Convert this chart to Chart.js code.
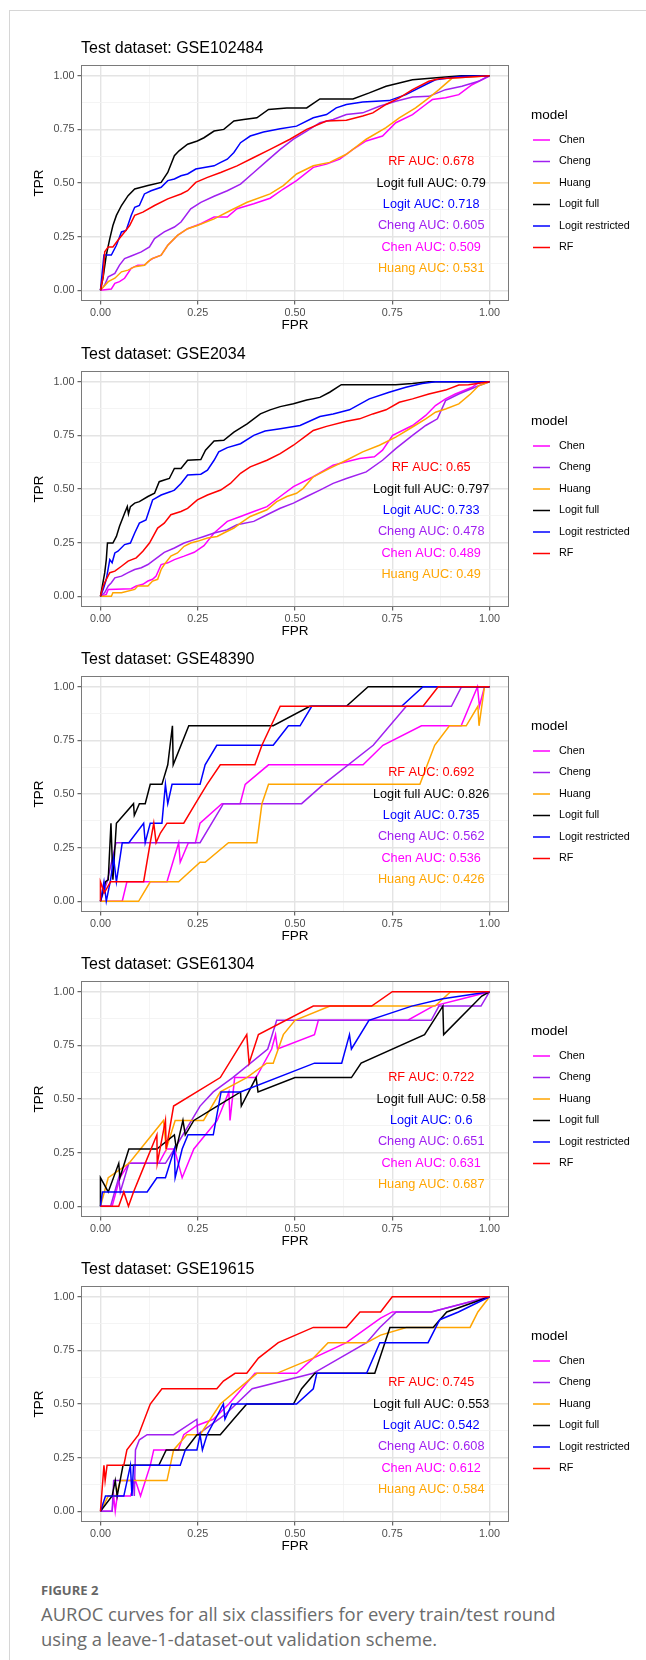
<!DOCTYPE html>
<html>
<head>
<meta charset="utf-8">
<title>AUROC curves</title>
<script src="https://cdn.jsdelivr.net/npm/chart.js@4.4.1/dist/chart.umd.min.js"></script>
<style>
  html, body { margin: 0; padding: 0; background: #fff; }
  body { width: 646px; height: 1660px; position: relative; overflow: hidden; }
  .frame { position: absolute; left: 9px; top: 10px; width: 720px; height: 1720px; border: 1px solid #d6d6d6; }
  canvas.panel { position: absolute; left: 0; }
  .caption { position: absolute; left: 41px; top: 1582px; font-family: "Open Sans", sans-serif; color: #6b6b6b; }
  .caption .fig { font-size: 13px; font-weight: bold; line-height: 16px; color: #666; }
  .caption .text { font-size: 18.4px; line-height: 25px; margin-top: 3px; }
</style>
</head>
<body>
<div class="frame"></div>
<div id="charts"></div>
<div class="caption">
  <div class="fig">FIGURE 2</div>
  <div class="text">AUROC curves for all six classifiers for every train/test round<br>using a leave-1-dataset-out validation scheme.</div>
</div>
<script>
// Models, colours and tick values
const models = ['Chen', 'Cheng', 'Huang', 'Logit full', 'Logit restricted', 'RF'];
const modelColors = ['#ff00ff', '#a020f0', '#ffa500', '#000000', '#0000ff', '#ff0000'];
const aucNames = ['Chen', 'Cheng', 'Huang', 'Logit full', 'Logit', 'RF'];
const tickValues = [0, 0.25, 0.5, 0.75, 1];
const gridValues = [0, 0.125, 0.25, 0.375, 0.5, 0.625, 0.75, 0.875, 1];

// AUC per model (same order as models)
const auc102484 = [0.509, 0.605, 0.531, 0.79, 0.718, 0.678];
const auc2034 = [0.489, 0.478, 0.49, 0.797, 0.733, 0.65];
const auc48390 = [0.536, 0.562, 0.426, 0.826, 0.735, 0.692];
const auc61304 = [0.631, 0.651, 0.687, 0.58, 0.6, 0.722];
const auc19615 = [0.612, 0.608, 0.584, 0.553, 0.542, 0.745];

// ROC curves, [FPR, TPR]
// GSE102484
const chen102484 = [[0,0],[0.028,0.006],[0.037,0.032],[0.049,0.040],[0.062,0.056],[0.079,0.102],[0.096,0.117],[0.113,0.117],[0.122,0.133],[0.134,0.148],[0.156,0.164],[0.173,0.210],[0.198,0.256],[0.224,0.287],[0.258,0.310],[0.292,0.341],[0.326,0.341],[0.351,0.380],[0.394,0.403],[0.436,0.429],[0.470,0.472],[0.504,0.511],[0.547,0.573],[0.581,0.588],[0.615,0.611],[0.649,0.657],[0.683,0.696],[0.725,0.719],[0.759,0.781],[0.802,0.819],[0.836,0.866],[0.853,0.889],[0.887,0.897],[0.921,0.912],[0.955,0.958],[1,1]];
const cheng102484 = [[0,0],[0.011,0.025],[0.020,0.063],[0.037,0.079],[0.049,0.117],[0.062,0.148],[0.079,0.160],[0.105,0.179],[0.126,0.202],[0.139,0.241],[0.164,0.272],[0.190,0.295],[0.207,0.318],[0.232,0.380],[0.258,0.410],[0.292,0.438],[0.326,0.464],[0.360,0.495],[0.394,0.549],[0.428,0.603],[0.462,0.657],[0.496,0.704],[0.530,0.742],[0.564,0.781],[0.598,0.796],[0.632,0.819],[0.674,0.827],[0.717,0.858],[0.759,0.881],[0.802,0.901],[0.844,0.904],[0.887,0.935],[0.929,0.951],[0.972,0.974],[1,1]];
const huang102484 = [[0,0],[0.020,0.040],[0.037,0.056],[0.054,0.086],[0.071,0.094],[0.088,0.110],[0.113,0.117],[0.130,0.145],[0.156,0.164],[0.173,0.210],[0.198,0.256],[0.224,0.287],[0.249,0.302],[0.292,0.333],[0.334,0.372],[0.377,0.410],[0.436,0.449],[0.470,0.488],[0.504,0.542],[0.547,0.580],[0.589,0.596],[0.632,0.634],[0.683,0.704],[0.734,0.758],[0.768,0.804],[0.810,0.850],[0.844,0.897],[0.870,0.935],[0.904,0.989],[1,1]];
const logitFull102484 = [[0,0],[0.007,0.063],[0.015,0.164],[0.024,0.241],[0.032,0.302],[0.041,0.349],[0.054,0.395],[0.071,0.441],[0.088,0.472],[0.105,0.480],[0.122,0.488],[0.156,0.503],[0.173,0.549],[0.190,0.627],[0.202,0.650],[0.224,0.681],[0.249,0.696],[0.266,0.711],[0.292,0.742],[0.317,0.750],[0.343,0.789],[0.368,0.796],[0.402,0.804],[0.432,0.843],[0.479,0.850],[0.530,0.850],[0.564,0.892],[0.649,0.892],[0.691,0.920],[0.734,0.951],[0.768,0.966],[0.802,0.981],[0.887,0.994],[0.929,1],[1,1]];
const logitRes102484 = [[0,0],[0.009,0.164],[0.028,0.164],[0.041,0.210],[0.054,0.272],[0.066,0.279],[0.079,0.349],[0.088,0.387],[0.100,0.395],[0.113,0.449],[0.130,0.464],[0.156,0.480],[0.173,0.511],[0.190,0.519],[0.207,0.534],[0.224,0.542],[0.245,0.565],[0.292,0.580],[0.309,0.596],[0.326,0.611],[0.343,0.642],[0.360,0.688],[0.385,0.719],[0.419,0.738],[0.462,0.753],[0.504,0.765],[0.547,0.804],[0.581,0.819],[0.606,0.850],[0.632,0.866],[0.674,0.877],[0.742,0.884],[0.785,0.912],[0.827,0.951],[0.861,0.981],[0.929,0.997],[1,1]];
const rf102484 = [[0,0],[0.007,0.063],[0.011,0.179],[0.020,0.202],[0.032,0.202],[0.045,0.233],[0.062,0.272],[0.075,0.302],[0.088,0.349],[0.109,0.364],[0.139,0.395],[0.173,0.426],[0.207,0.449],[0.224,0.464],[0.245,0.503],[0.275,0.526],[0.309,0.549],[0.351,0.580],[0.394,0.619],[0.436,0.657],[0.487,0.704],[0.530,0.750],[0.581,0.789],[0.632,0.793],[0.674,0.812],[0.700,0.827],[0.734,0.866],[0.768,0.897],[0.802,0.935],[0.844,0.974],[0.870,0.986],[0.929,0.992],[1,1]];

// GSE2034
const chen2034 = [[0,0],[0.015,0.009],[0.020,0.032],[0.079,0.035],[0.092,0.048],[0.109,0.056],[0.122,0.071],[0.134,0.079],[0.143,0.094],[0.156,0.148],[0.173,0.156],[0.190,0.171],[0.215,0.187],[0.241,0.205],[0.266,0.236],[0.292,0.295],[0.326,0.349],[0.360,0.372],[0.394,0.395],[0.428,0.418],[0.462,0.465],[0.496,0.511],[0.547,0.557],[0.598,0.611],[0.632,0.627],[0.666,0.642],[0.704,0.650],[0.725,0.681],[0.751,0.750],[0.785,0.781],[0.802,0.796],[0.836,0.843],[0.861,0.889],[0.887,0.920],[0.912,0.943],[0.955,0.974],[0.972,0.997],[1,1]];
const cheng2034 = [[0,0],[0.011,0.017],[0.020,0.048],[0.028,0.063],[0.037,0.086],[0.054,0.094],[0.071,0.110],[0.088,0.125],[0.105,0.133],[0.122,0.148],[0.139,0.171],[0.164,0.205],[0.190,0.225],[0.215,0.248],[0.241,0.264],[0.266,0.279],[0.292,0.295],[0.326,0.310],[0.351,0.333],[0.394,0.349],[0.428,0.380],[0.462,0.410],[0.496,0.434],[0.530,0.465],[0.564,0.495],[0.598,0.526],[0.632,0.549],[0.683,0.580],[0.725,0.634],[0.759,0.688],[0.802,0.750],[0.836,0.796],[0.866,0.827],[0.887,0.912],[0.921,0.943],[0.972,0.981],[1,1]];
const huang2034 = [[0,0],[0.028,0],[0.032,0.017],[0.054,0.017],[0.088,0.032],[0.096,0.048],[0.122,0.048],[0.134,0.071],[0.147,0.079],[0.156,0.125],[0.164,0.148],[0.181,0.187],[0.198,0.202],[0.215,0.233],[0.232,0.248],[0.249,0.256],[0.275,0.272],[0.300,0.279],[0.317,0.295],[0.343,0.318],[0.360,0.341],[0.385,0.372],[0.428,0.403],[0.453,0.441],[0.479,0.465],[0.504,0.480],[0.521,0.503],[0.547,0.557],[0.589,0.596],[0.632,0.634],[0.674,0.673],[0.717,0.704],[0.759,0.742],[0.802,0.789],[0.836,0.827],[0.861,0.858],[0.887,0.873],[0.921,0.897],[0.951,0.943],[0.972,0.981],[1,1]];
const logitFull2034 = [[0,0],[0.011,0.110],[0.015,0.171],[0.018,0.248],[0.032,0.248],[0.041,0.279],[0.049,0.326],[0.062,0.387],[0.069,0.418],[0.072,0.384],[0.077,0.418],[0.088,0.434],[0.100,0.441],[0.122,0.465],[0.139,0.480],[0.151,0.534],[0.164,0.542],[0.177,0.549],[0.190,0.596],[0.207,0.596],[0.224,0.634],[0.258,0.637],[0.270,0.681],[0.292,0.724],[0.317,0.727],[0.343,0.765],[0.377,0.804],[0.411,0.850],[0.436,0.869],[0.462,0.884],[0.496,0.897],[0.530,0.915],[0.564,0.927],[0.589,0.951],[0.619,0.986],[0.759,0.986],[0.802,0.992],[0.844,1],[1,1]];
const logitRes2034 = [[0,0],[0.007,0.032],[0.015,0.079],[0.024,0.171],[0.030,0.156],[0.037,0.202],[0.045,0.210],[0.062,0.241],[0.077,0.248],[0.088,0.295],[0.100,0.341],[0.117,0.356],[0.134,0.449],[0.156,0.472],[0.181,0.488],[0.190,0.495],[0.207,0.526],[0.224,0.565],[0.258,0.569],[0.275,0.588],[0.292,0.634],[0.304,0.673],[0.326,0.693],[0.360,0.711],[0.394,0.750],[0.423,0.770],[0.462,0.781],[0.513,0.796],[0.564,0.838],[0.598,0.850],[0.640,0.869],[0.691,0.920],[0.742,0.951],[0.785,0.974],[0.827,0.992],[0.861,1],[1,1]];
const rf2034 = [[0,0],[0.007,0.048],[0.015,0.079],[0.024,0.110],[0.037,0.117],[0.054,0.140],[0.071,0.164],[0.092,0.179],[0.109,0.210],[0.126,0.248],[0.147,0.318],[0.164,0.341],[0.181,0.380],[0.207,0.395],[0.224,0.410],[0.249,0.449],[0.275,0.472],[0.309,0.495],[0.334,0.526],[0.360,0.573],[0.385,0.603],[0.428,0.634],[0.462,0.665],[0.496,0.704],[0.530,0.750],[0.547,0.773],[0.581,0.792],[0.632,0.816],[0.666,0.827],[0.700,0.850],[0.734,0.869],[0.768,0.904],[0.802,0.920],[0.844,0.943],[0.887,0.961],[0.921,0.985],[0.946,0.986],[1,1]];

// GSE48390
const chen48390 = [[0,0],[0.056,0],[0.068,0.091],[0.171,0.091],[0.201,0.273],[0.205,0.182],[0.226,0.273],[0.244,0.273],[0.256,0.364],[0.312,0.455],[0.359,0.455],[0.372,0.545],[0.432,0.636],[0.675,0.636],[0.726,0.727],[0.825,0.818],[0.927,0.818],[0.969,1],[0.974,0.909],[0.987,1],[1,1]];
const cheng48390 = [[0,0],[0.017,0.091],[0.04,0.273],[0.256,0.273],[0.316,0.455],[0.517,0.455],[0.573,0.545],[0.701,0.727],[0.786,0.909],[0.902,0.909],[0.928,1],[1,1]];
const huang48390 = [[0,0],[0.098,0],[0.128,0.091],[0.201,0.091],[0.256,0.182],[0.269,0.182],[0.329,0.273],[0.402,0.273],[0.415,0.455],[0.432,0.545],[0.821,0.545],[0.859,0.727],[0.897,0.818],[0.94,0.818],[0.970,0.909],[0.973,0.818],[0.987,1],[1,1]];
const logitFull48390 = [[0,0],[0.013,0.091],[0.02,0.1],[0.027,0.364],[0.032,0.1],[0.041,0.364],[0.085,0.455],[0.087,0.4],[0.10,0.455],[0.115,0.455],[0.128,0.545],[0.158,0.545],[0.173,0.636],[0.185,0.818],[0.187,0.636],[0.227,0.818],[0.444,0.818],[0.538,0.909],[0.632,0.909],[0.688,1],[1,1]];
const logitRes48390 = [[0,0],[0.009,0.091],[0.015,0],[0.026,0.1],[0.034,0.2],[0.041,0.091],[0.056,0.273],[0.073,0.273],[0.111,0.364],[0.115,0.273],[0.128,0.364],[0.158,0.364],[0.167,0.545],[0.173,0.455],[0.184,0.545],[0.256,0.545],[0.269,0.636],[0.299,0.727],[0.444,0.727],[0.483,0.818],[0.513,0.818],[0.543,0.909],[0.774,0.909],[0.829,1],[1,1]];
const rf48390 = [[0,0],[0,0.091],[0.01,0.04],[0.026,0.091],[0.111,0.091],[0.128,0.273],[0.137,0.364],[0.143,0.273],[0.154,0.318],[0.171,0.364],[0.214,0.364],[0.244,0.455],[0.274,0.545],[0.308,0.636],[0.397,0.636],[0.415,0.727],[0.462,0.909],[0.829,0.909],[0.868,1],[1,1]];

// GSE61304
const chen61304 = [[0,0],[0.03,0],[0.05,0.133],[0.073,0.2],[0.15,0.2],[0.17,0.267],[0.19,0.267],[0.21,0.133],[0.24,0.267],[0.30,0.4],[0.33,0.533],[0.333,0.4],[0.345,0.6],[0.40,0.6],[0.44,0.733],[0.45,0.8],[0.455,0.733],[0.55,0.8],[0.56,0.867],[0.79,0.867],[0.855,0.933],[0.93,0.967],[1,1]];
const cheng61304 = [[0,0],[0.026,0],[0.047,0.133],[0.051,0.067],[0.073,0.2],[0.167,0.2],[0.19,0.267],[0.256,0.467],[0.29,0.533],[0.34,0.6],[0.43,0.733],[0.453,0.867],[0.85,0.867],[0.87,0.933],[0.978,0.933],[1,1]];
const huang61304 = [[0,0],[0.02,0.133],[0.073,0.2],[0.162,0.4],[0.169,0.267],[0.192,0.4],[0.265,0.4],[0.308,0.533],[0.376,0.6],[0.427,0.667],[0.444,0.667],[0.47,0.8],[0.50,0.867],[0.59,0.933],[0.86,0.933],[0.9,1],[1,1]];
const logitFull61304 = [[0,0],[0,0.133],[0.02,0.067],[0.047,0.2],[0.05,0.133],[0.073,0.267],[0.145,0.267],[0.19,0.333],[0.195,0.267],[0.212,0.4],[0.218,0.333],[0.24,0.4],[0.30,0.467],[0.36,0.533],[0.362,0.467],[0.40,0.6],[0.405,0.533],[0.50,0.6],[0.645,0.6],[0.67,0.667],[0.833,0.8],[0.88,0.933],[0.882,0.8],[0.98,0.98],[1,1]];
const logitRes61304 = [[0,0],[0.005,0.067],[0.12,0.067],[0.145,0.133],[0.167,0.133],[0.19,0.267],[0.192,0.133],[0.21,0.267],[0.225,0.333],[0.29,0.333],[0.31,0.533],[0.36,0.533],[0.55,0.667],[0.62,0.667],[0.64,0.8],[0.645,0.733],[0.69,0.867],[0.8,0.933],[0.88,0.967],[1,1]];
const rf61304 = [[0,0],[0.047,0],[0.06,0.067],[0.072,0],[0.085,0.067],[0.115,0.2],[0.145,0.333],[0.146,0.2],[0.167,0.4],[0.169,0.267],[0.188,0.467],[0.308,0.6],[0.376,0.8],[0.382,0.667],[0.406,0.8],[0.547,0.933],[0.697,0.933],[0.75,1],[1,1]];

// GSE19615
const chen19615 = [[0,0],[0.03,0],[0.034,0.071],[0.038,0],[0.043,0.071],[0.077,0.071],[0.09,0.143],[0.103,0.071],[0.128,0.214],[0.137,0.286],[0.2,0.286],[0.214,0.357],[0.248,0.4],[0.29,0.429],[0.33,0.5],[0.397,0.643],[0.504,0.643],[0.547,0.714],[0.632,0.786],[0.72,0.9],[0.75,0.929],[0.85,0.929],[1,1]];
const cheng19615 = [[0,0],[0.03,0],[0.034,0.143],[0.085,0.143],[0.087,0.071],[0.09,0.286],[0.10,0.333],[0.12,0.357],[0.188,0.357],[0.248,0.429],[0.25,0.357],[0.282,0.4],[0.32,0.45],[0.39,0.571],[0.547,0.643],[0.684,0.786],[0.718,0.857],[0.76,0.929],[0.85,0.929],[1,1]];
const huang19615 = [[0,0],[0.02,0.071],[0.04,0.071],[0.051,0.143],[0.171,0.143],[0.188,0.286],[0.222,0.357],[0.256,0.357],[0.308,0.5],[0.402,0.643],[0.453,0.643],[0.547,0.714],[0.585,0.786],[0.684,0.786],[0.72,0.821],[0.786,0.857],[0.95,0.857],[0.97,0.929],[1,1]];
const logitFull19615 = [[0,0],[0.03,0.071],[0.038,0.143],[0.043,0.071],[0.058,0.214],[0.15,0.214],[0.169,0.286],[0.218,0.286],[0.248,0.357],[0.308,0.357],[0.342,0.429],[0.376,0.5],[0.496,0.5],[0.517,0.571],[0.551,0.643],[0.705,0.643],[0.744,0.857],[0.855,0.857],[0.89,0.929],[1,1]];
const logitRes19615 = [[0,0],[0.013,0.071],[0.06,0.071],[0.077,0.214],[0.081,0.071],[0.085,0.214],[0.205,0.214],[0.218,0.286],[0.248,0.286],[0.256,0.357],[0.262,0.286],[0.274,0.357],[0.316,0.5],[0.32,0.429],[0.338,0.5],[0.504,0.5],[0.547,0.571],[0.556,0.643],[0.684,0.643],[0.718,0.786],[0.842,0.786],[0.872,0.893],[0.92,0.929],[1,1]];
const rf19615 = [[0,0],[0.003,0.071],[0.009,0.214],[0.012,0.143],[0.017,0.214],[0.06,0.214],[0.068,0.286],[0.098,0.357],[0.128,0.5],[0.158,0.571],[0.299,0.571],[0.316,0.607],[0.346,0.643],[0.376,0.643],[0.406,0.714],[0.457,0.786],[0.547,0.857],[0.632,0.857],[0.667,0.929],[0.72,0.929],[0.75,1],[1,1]];

const panels = [
  { name: 'GSE102484', curves: [chen102484, cheng102484, huang102484, logitFull102484, logitRes102484, rf102484], auc: auc102484 },
  { name: 'GSE2034', curves: [chen2034, cheng2034, huang2034, logitFull2034, logitRes2034, rf2034], auc: auc2034 },
  { name: 'GSE48390', curves: [chen48390, cheng48390, huang48390, logitFull48390, logitRes48390, rf48390], auc: auc48390 },
  { name: 'GSE61304', curves: [chen61304, cheng61304, huang61304, logitFull61304, logitRes61304, rf61304], auc: auc61304 },
  { name: 'GSE19615', curves: [chen19615, cheng19615, huang19615, logitFull19615, logitRes19615, rf19615], auc: auc19615 }
];

const family = '"Liberation Sans", Arial, sans-serif';
const panelTops = [65, 371, 676, 981, 1286];

function isMajor(v) {
  return tickValues.some(t => Math.abs(t - v) < 1e-9);
}

// grey frame round the plotting panel
const panelFrame = {
  id: 'panelFrame',
  afterDraw(chart) {
    const { ctx, chartArea: a } = chart;
    ctx.save();
    ctx.strokeStyle = '#7a7a7a';
    ctx.lineWidth = 1;
    ctx.strokeRect(a.left + 0.5, a.top + 0.5, a.width - 1, a.height - 1);
    ctx.restore();
  }
};

// AUC labels inside the panel, top to bottom: RF, Logit full, Logit, Cheng, Chen, Huang
const aucText = {
  id: 'aucText',
  afterDatasetsDraw(chart, args, opts) {
    const { ctx, scales: { x, y } } = chart;
    const rows = [5, 3, 4, 1, 0, 2];
    ctx.save();
    ctx.font = '12.7px ' + family;
    ctx.textAlign = 'center';
    ctx.textBaseline = 'middle';
    rows.forEach((m, r) => {
      ctx.fillStyle = modelColors[m];
      ctx.fillText(aucNames[m] + ' AUC: ' + opts.values[m], x.getPixelForValue(0.85), y.getPixelForValue(0.6 - r * 0.1));
    });
    ctx.restore();
  }
};

// legend on the right, ggplot style
const modelLegend = {
  id: 'modelLegend',
  afterDraw(chart) {
    const { ctx, chartArea: a } = chart;
    const mid = (a.top + a.bottom) / 2;
    ctx.save();
    ctx.textAlign = 'left';
    ctx.textBaseline = 'middle';
    ctx.fillStyle = '#000';
    ctx.font = '13.5px ' + family;
    ctx.fillText('model', a.right + 22, mid - 68);
    ctx.font = '10.8px ' + family;
    chart.data.datasets.forEach((ds, i) => {
      const yy = mid - 43 + i * 21.5;
      ctx.strokeStyle = ds.borderColor;
      ctx.lineWidth = ds.borderWidth;
      ctx.beginPath();
      ctx.moveTo(a.right + 24, yy);
      ctx.lineTo(a.right + 41, yy);
      ctx.stroke();
      ctx.fillStyle = '#000';
      ctx.fillText(ds.label, a.right + 50, yy);
    });
    ctx.restore();
  }
};

function axisOptions(label, horizontal) {
  return {
    type: 'linear',
    min: -0.05,
    max: 1.05,
    afterBuildTicks: scale => {
      scale.ticks = gridValues.map(v => ({ value: v }));
    },
    afterFit: scale => {
      if (horizontal) scale.height = 36;
      else scale.width = 81;
    },
    grid: {
      color: ctx => isMajor(ctx.tick.value) ? '#e4e4e4' : '#f1f1f1',
      lineWidth: ctx => isMajor(ctx.tick.value) ? 1.4 : 0.8,
      tickLength: 3.5,
      tickColor: ctx => isMajor(ctx.tick.value) ? '#444' : 'rgba(0,0,0,0)',
      tickWidth: 1
    },
    border: { display: false },
    ticks: {
      autoSkip: false,
      maxRotation: 0,
      padding: horizontal ? 2 : 3,
      color: '#4d4d4d',
      font: { family: family, size: 10.8 },
      callback: v => isMajor(v) ? v.toFixed(2) : ''
    },
    title: {
      display: true,
      text: label,
      color: '#000',
      font: { family: family, size: 13.5 },
      padding: horizontal ? { top: 0, bottom: 3.4 } : { top: 31, bottom: 0 }
    }
  };
}

const holder = document.getElementById('charts');

panels.forEach((panel, p) => {
  const canvas = document.createElement('canvas');
  canvas.className = 'panel';
  canvas.width = 646;
  canvas.height = 306;
  canvas.style.top = (panelTops[p] - 34) + 'px';
  holder.appendChild(canvas);

  new Chart(canvas, {
    type: 'scatter',
    data: {
      datasets: panel.curves.map((pts, i) => ({
        label: models[i],
        data: pts.map(pt => ({ x: pt[0], y: pt[1] })),
        showLine: true,
        borderColor: modelColors[i],
        backgroundColor: modelColors[i],
        borderWidth: 1.5,
        pointRadius: 0,
        pointHoverRadius: 0,
        tension: 0,
        order: models.length - i
      }))
    },
    options: {
      responsive: false,
      animation: false,
      events: [],
      layout: { padding: { left: 0, right: 137, top: 0, bottom: 0 } },
      scales: {
        x: axisOptions('FPR', true),
        y: axisOptions('TPR', false)
      },
      plugins: {
        legend: { display: false },
        tooltip: { enabled: false },
        title: {
          display: true,
          text: 'Test dataset: ' + panel.name,
          align: 'start',
          fullSize: false,
          color: '#000',
          font: { family: family, size: 16, weight: 'normal' },
          padding: { top: 8.4, bottom: 6.4 }
        },
        aucText: { values: panel.auc }
      }
    },
    plugins: [panelFrame, aucText, modelLegend]
  });
});
</script>
</body>
</html>
